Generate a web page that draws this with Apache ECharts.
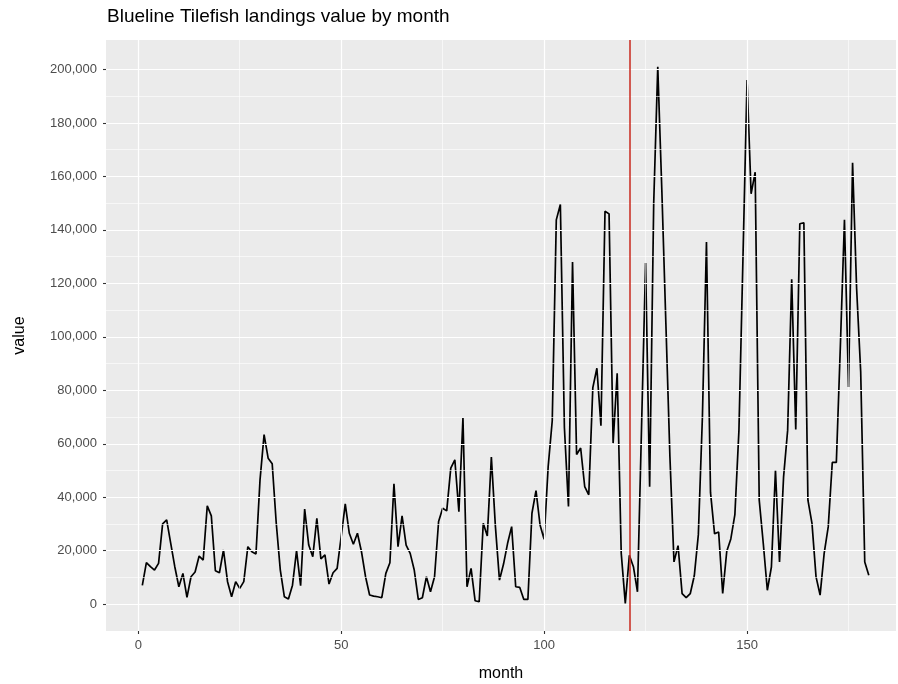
<!DOCTYPE html>
<html>
<head>
<meta charset="utf-8">
<script src="https://cdn.jsdelivr.net/npm/echarts@6/dist/echarts.min.js"></script>
<style>
  html, body { margin: 0; padding: 0; background: #fff; }
  #chart { width: 898px; height: 684px; }
</style>
</head>
<body>
<div id="chart"></div>
<script>
// landings value, month 1 .. 180
let values = [
  7000, 15500, 14000, 12750, 15250, 30000, 31500, 22750, 14000, 6500,
  11500, 2500, 10250, 12000, 18000, 16500, 36750, 33000, 12500, 11750,
  20250, 8400, 2750, 8400, 5900, 8400, 21500, 19600, 18750, 46500,
  63400, 54600, 52500, 30250, 12750, 2750, 1900, 7100, 20000, 6900,
  35600, 22100, 17750, 32100, 16900, 18400, 7500, 11750, 13400, 25250,
  37500, 26500, 22400, 26500, 19600, 10250, 3400, 3000, 2750, 2400,
  11500, 15500, 45000, 21500, 33000, 22100, 19000, 12750, 1750, 2400,
  10250, 4600, 10250, 30900, 35900, 34900, 50900, 54000, 34600, 69600,
  6500, 13400, 1250, 900, 30250, 25500, 55000, 29000, 9000, 15000,
  22750, 29000, 6500, 6250, 1750, 1750, 34000, 42500, 29600, 24250,
  51500, 68600, 143750, 149500, 66000, 36500, 128000, 56000, 58400, 44000,
  40900, 81000, 88250, 66750, 147000, 146000, 60250, 86400, 19000, 300,
  18300, 14000, 4600, 66000, 127600, 43900, 150000, 201000, 155000, 105000,
  55000, 15800, 21900, 3900, 2400, 3900, 10600, 26000, 70000, 135500,
  41700, 26300, 27000, 4000, 19800, 24400, 33500, 65000, 130000, 196100,
  153500, 161600, 38900, 22700, 5200, 13900, 50100, 15800, 47600, 65000,
  121500, 65300, 142300, 142700, 38900, 30200, 10200, 3400, 19000, 28900,
  53000, 53000, 97000, 143800, 81200, 165100, 118000, 87000, 15800, 10800
];
let months = values.map((v, i) => i + 1);

let xBreaks = [0, 50, 100, 150];
let xMinor = [25, 75, 125, 175];
let yBreaks = [0, 20000, 40000, 60000, 80000, 100000, 120000, 140000, 160000, 180000, 200000];
let yMinor = [10000, 30000, 50000, 70000, 90000, 110000, 130000, 150000, 170000, 190000];
let cutMonth = 121;

let font = 'Helvetica, Arial, "Liberation Sans", sans-serif';

function gridLines(axis, list, width) {
  return list.map(v => ({
    [axis]: v,
    lineStyle: { color: '#FFFFFF', width: width, type: 'solid' }
  }));
}

let chart = echarts.init(document.getElementById('chart'));
chart.setOption({
  animation: false,
  backgroundColor: '#FFFFFF',
  textStyle: { fontFamily: font },
  title: {
    text: 'Blueline Tilefish landings value by month',
    left: 102,
    top: 2,
    textStyle: { fontFamily: font, fontSize: 19, fontWeight: 'normal', color: '#000000' }
  },
  grid: {
    left: 106, right: 2, top: 40, bottom: 53,
    outerBoundsMode: 'none',
    show: true, backgroundColor: '#EBEBEB', borderWidth: 0
  },
  xAxis: {
    type: 'value',
    min: -7.95,
    max: 186.7,
    name: 'month',
    nameLocation: 'middle',
    nameGap: 35,
    nameTextStyle: { fontFamily: font, fontSize: 16, color: '#000000' },
    // axis line kept invisible so the ticks still get drawn
    axisLine: { show: true, onZero: false, lineStyle: { color: '#EBEBEB', opacity: 0 } },
    axisTick: { show: true, length: 3, customValues: xBreaks, lineStyle: { color: '#333333', width: 1.1 } },
    axisLabel: { customValues: xBreaks, color: '#4D4D4D', fontSize: 13, margin: 8, fontFamily: font },
    splitLine: { show: false }
  },
  yAxis: {
    type: 'value',
    min: -10050,
    max: 211050,
    name: 'value',
    nameLocation: 'middle',
    nameGap: 78,
    nameTextStyle: { fontFamily: font, fontSize: 16, color: '#000000' },
    axisLine: { show: true, onZero: false, lineStyle: { color: '#EBEBEB', opacity: 0 } },
    axisTick: { show: true, length: 3, customValues: yBreaks, lineStyle: { color: '#333333', width: 1.1 } },
    axisLabel: {
      customValues: yBreaks,
      color: '#4D4D4D', fontSize: 13, margin: 9, fontFamily: font,
      formatter: v => v.toLocaleString('en-US')
    },
    splitLine: { show: false }
  },
  series: [
    {
      // panel grid lines
      type: 'line',
      data: [],
      silent: true,
      z: 1,
      markLine: {
        silent: true,
        symbol: ['none', 'none'],
        label: { show: false },
        emphasis: { disabled: true },
        data: [].concat(
          gridLines('xAxis', xMinor, 0.6),
          gridLines('yAxis', yMinor, 0.6),
          gridLines('xAxis', xBreaks, 1.2),
          gridLines('yAxis', yBreaks, 1.2)
        )
      }
    },
    {
      type: 'line',
      data: months.map((m, i) => [m, values[i]]),
      showSymbol: false,
      symbol: 'none',
      z: 2,
      lineStyle: { color: '#000000', width: 1.7 }
    },
    {
      // red cut line
      type: 'line',
      data: [],
      silent: true,
      z: 3,
      markLine: {
        silent: true,
        symbol: ['none', 'none'],
        label: { show: false },
        emphasis: { disabled: true },
        data: [{ xAxis: cutMonth, lineStyle: { color: '#C8281C', width: 1.5, type: 'solid' } }]
      }
    }
  ]
});
</script>
</body>
</html>
